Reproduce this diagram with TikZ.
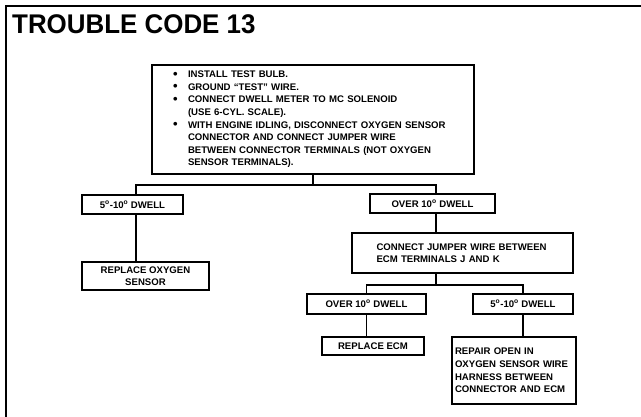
\documentclass[tikz,border=0pt]{standalone}
\usepackage{fontspec}
\setmainfont{Liberation Sans}
\newcommand\txtfont{\fontsize{9.6}{12.6}\selectfont\bfseries\hyphenpenalty=10000 }
\newcommand\bl{\makebox[16pt][l]{\hspace*{1pt}\raisebox{-0.6pt}{\fontsize{13}{12}\selectfont\textbullet}}}
\newcommand\ind{\hspace*{16pt}}
\newcommand\dg{\textsuperscript{o}}
\begin{document}
\begin{tikzpicture}[x=1pt,y=-1pt,
  box/.style={draw, line width=1.8pt, inner sep=0pt, font=\txtfont, align=center},
  wire/.style={line width=1.8pt},
  frame/.style={line width=2pt}]
\useasboundingbox (0,0) rectangle (641,417);
\fill[white] (0,0) rectangle (641,417);
\draw[frame] (641,6) -- (6,6) -- (6,417);
\node[anchor=base west, inner sep=0pt, xscale=0.96,
  font=\fontsize{27}{27}\selectfont\bfseries] (title) at (12,34) {TROUBLE CODE 13};

\node[box, align=left, text width=282pt, minimum width=322pt, minimum height=109pt] (main) at (313,119.5)
 {\bl INSTALL TEST BULB.\\
  \bl GROUND ``TEST'' WIRE.\\
  \bl CONNECT DWELL METER TO MC SOLENOID\\
  \ind (USE 6-CYL. SCALE).\\
  \bl WITH ENGINE IDLING, DISCONNECT OXYGEN SENSOR\\
  \ind CONNECTOR AND CONNECT JUMPER WIRE\\
  \ind BETWEEN CONNECTOR TERMINALS (NOT OXYGEN\\
  \ind SENSOR TERMINALS).};

\node[box, minimum width=101pt, minimum height=19pt] (L1) at (132.5,204.5) {5\dg-10\dg{} DWELL};
\node[box, minimum width=125pt, minimum height=19pt] (R1) at (432.5,203.5) {OVER 10\dg{} DWELL};
\node[box, minimum width=127pt, minimum height=28pt] (L2) at (145.5,276) {REPLACE OXYGEN\\SENSOR};
\node[box, align=left, text width=172pt, minimum width=221pt, minimum height=40pt] (R2) at (462.5,253)
 {CONNECT JUMPER WIRE BETWEEN\\ECM TERMINALS J AND K};
\node[box, minimum width=119pt, minimum height=20pt] (R3a) at (366.5,304) {OVER 10\dg{} DWELL};
\node[box, minimum width=100pt, minimum height=20pt] (R3b) at (523,304) {5\dg-10\dg{} DWELL};
\node[box, minimum width=102pt, minimum height=18pt] (R4a) at (373,346) {REPLACE ECM};
\node[box, align=left, text width=118pt, minimum width=124pt, minimum height=67pt] (R4b) at (514,370.5)
 {REPAIR OPEN IN\\OXYGEN SENSOR WIRE\\HARNESS BETWEEN\\CONNECTOR AND ECM};

\draw[wire] (main.south) -- ++(0,10) coordinate (j1);
\draw[wire] (j1) -| ([xshift=3.5pt]L1.north);
\draw[wire] (j1) -| ([xshift=3.5pt]R1.north);
\path ([xshift=3.5pt]L1.south) coordinate (a1);
\draw[wire] (a1) -- (a1 |- L2.north);
\path ([xshift=3.5pt]R1.south) coordinate (a2);
\draw[wire] (a2) -- (a2 |- R2.north);
\draw[wire] ([xshift=-26.5pt]R2.south) -- ++(0,11) coordinate (j2);
\draw[wire] (j2) -| (R3a.north);
\draw[wire] (j2) -| (R3b.north);
\draw[wire] (R3a.south) -- (R3a.south |- R4a.north);
\draw[wire] (R3b.south) -- (R3b.south |- R4b.north);
\end{tikzpicture}
\end{document}
